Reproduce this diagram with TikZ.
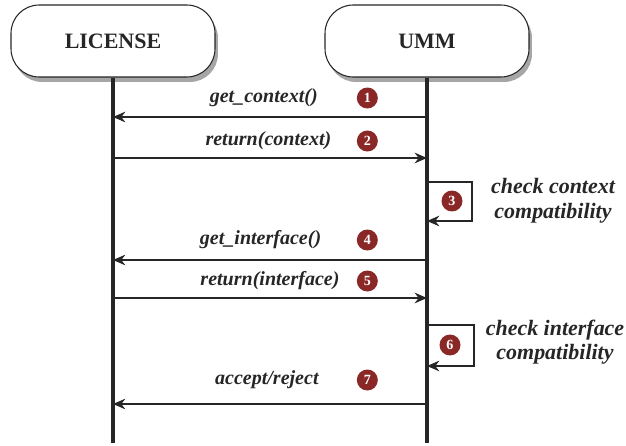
\documentclass[tikz,border=0pt]{standalone}
\usepackage{fontspec}
\setmainfont{Liberation Serif}
\usetikzlibrary{positioning,calc,shadows,arrows.meta}
\definecolor{badgered}{RGB}{138,40,40}
\definecolor{inkgray}{RGB}{38,38,38}

\begin{document}
\begin{tikzpicture}[x=0.02cm, y=-0.02cm,
    actorbox/.style={rectangle, rounded corners=16pt, draw=inkgray, fill=white,
                     minimum width=4.08cm, minimum height=1.44cm,
                     font=\fontsize{12.5}{14}\selectfont\bfseries, text=inkgray,
                     line width=0.6pt,
                     drop shadow={shadow xshift=0.6mm, shadow yshift=-1mm, opacity=0.7}},
    lifeline/.style={line width=1.8pt, draw=inkgray},
    msg/.style={-{Stealth[length=7pt, width=6pt]}, line width=1.1pt, draw=inkgray},
    msglabel/.style={font=\fontsize{11.4}{13}\selectfont\bfseries\itshape, text=inkgray},
    notelabel/.style={font=\fontsize{12.5}{14}\selectfont\bfseries\itshape, text=inkgray,
                      align=center},
    badge/.style={circle, fill=badgered, text=white, inner sep=0pt, minimum size=0.42cm,
                  font=\fontsize{8}{9}\selectfont\bfseries}
]
\useasboundingbox (0,0) rectangle (626,446);

% actors
\node[actorbox] (lic) at (113,41) {LICENSE};
\node[actorbox] (umm) at (427,41) {UMM};

% lifelines
\coordinate (licend) at (113,443);
\coordinate (ummend) at (427,443);
\draw[lifeline] (lic.south) -- (licend);
\draw[lifeline] (umm.south) -- (ummend);

% message end points
\coordinate (l1) at (lic |- 0,117);  \coordinate (u1) at (umm |- 0,117);
\coordinate (l2) at (lic |- 0,158);  \coordinate (u2) at (umm |- 0,158);
\coordinate (u3a) at (umm |- 0,182); \coordinate (u3b) at (umm |- 0,221);
\coordinate (l4) at (lic |- 0,260);  \coordinate (u4) at (umm |- 0,260);
\coordinate (l5) at (lic |- 0,298);  \coordinate (u5) at (umm |- 0,298);
\coordinate (u6a) at (umm |- 0,325); \coordinate (u6b) at (umm |- 0,366);
\coordinate (l7) at (lic |- 0,404);  \coordinate (u7) at (umm |- 0,404);

% 1
\draw[msg] (u1) -- (l1)
    node[msglabel, pos=0.52, yshift=0.38cm] (t1) {get\_context()}
    node[badge, pos=0.19, yshift=0.38cm] (b1) {1};

% 2
\draw[msg] (l2) -- (u2)
    node[msglabel, pos=0.495, yshift=0.34cm] (t2) {return(context)}
    node[badge, pos=0.81, yshift=0.34cm] (b2) {2};

% 3
\draw[msg] (u3a) -- ++(45,0) |- (u3b);
\node[badge] (b3) at (452,201) {3};
\node[notelabel] (n3) at (553,201) {check context\\compatibility};

% 4
\draw[msg] (u4) -- (l4)
    node[msglabel, pos=0.53, yshift=0.40cm] (t4) {get\_interface()}
    node[badge, pos=0.19, yshift=0.40cm] (b4) {4};

% 5
\draw[msg] (l5) -- (u5)
    node[msglabel, pos=0.50, yshift=0.34cm] (t5) {return(interface)}
    node[badge, pos=0.81, yshift=0.34cm] (b5) {5};

% 6
\draw[msg] (u6a) -- ++(47,0) |- (u6b);
\node[badge] (b6) at (450,345) {6};
\node[notelabel] (n6) at (555,342) {check interface\\compatibility};

% 7
\draw[msg] (u7) -- (l7)
    node[msglabel, pos=0.51, yshift=0.48cm] (t7) {accept/reject}
    node[badge, pos=0.19, yshift=0.48cm] (b7) {7};

\end{tikzpicture}
\end{document}
